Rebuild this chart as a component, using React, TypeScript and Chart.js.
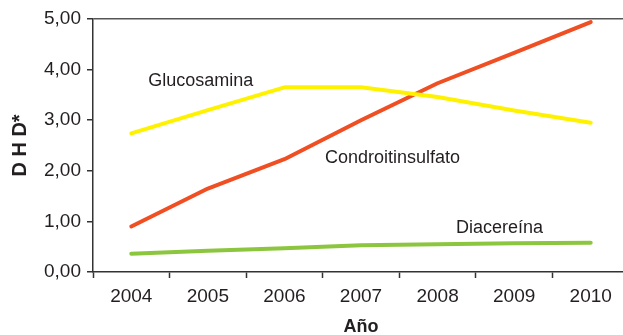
import React, { useEffect, useRef } from "react";
import { Chart, registerables } from "chart.js";

Chart.register(...registerables);

const years = ["2004", "2005", "2006", "2007", "2008", "2009", "2010"];
const glucosamina = [2.74, 3.2, 3.65, 3.65, 3.46, 3.19, 2.95];
const condroitinsulfato = [0.9, 1.65, 2.23, 3.0, 3.73, 4.33, 4.94];
const diacereina = [0.36, 0.42, 0.47, 0.53, 0.55, 0.57, 0.58];

const seriesNames = ["Glucosamina", "Condroitinsulfato", "Diacereína"];
// label anchors in data coordinates: [category index, value]
const labelAnchors: [number, number][] = [
  [0.22, 3.78],
  [2.53, 2.26],
  [4.24, 0.86],
];

const yTitle = "D H D*";
const xTitle = "Año";

const labelPlugin = {
  id: "seriesLabels",
  afterDatasetsDraw(chart: any) {
    const { ctx, scales } = chart;
    ctx.save();
    ctx.font = "18px 'Liberation Sans', Arial, sans-serif";
    ctx.fillStyle = "#231f20";
    ctx.textAlign = "left";
    ctx.textBaseline = "middle";
    seriesNames.forEach((name, i) => {
      const [xi, yv] = labelAnchors[i];
      ctx.fillText(name, scales.x.getPixelForValue(xi), scales.y.getPixelForValue(yv));
    });
    ctx.restore();
  },
};

export default function App() {
  const ref = useRef<HTMLCanvasElement>(null);
  useEffect(() => {
    if (!ref.current) return;
    const font = "'Liberation Sans', Arial, sans-serif";
    const chart = new Chart(ref.current, {
      type: "line",
      data: {
        labels: years,
        datasets: [
          { label: seriesNames[0], data: glucosamina, borderColor: "#fff200" },
          { label: seriesNames[1], data: condroitinsulfato, borderColor: "#f04e23" },
          { label: seriesNames[2], data: diacereina, borderColor: "#8cc63f" },
        ].map((d) => ({
          ...d,
          borderWidth: 4,
          tension: 0,
          pointRadius: 0,
          borderCapStyle: "round" as const,
          borderJoinStyle: "round" as const,
          fill: false,
        })),
      },
      options: {
        animation: false,
        responsive: false,
        layout: { padding: { left: 0, right: 11, top: 19, bottom: 0 } },
        plugins: { legend: { display: false }, tooltip: { enabled: false } },
        scales: {
          x: {
            offset: true,
            grid: {
              offset: true,
              drawOnChartArea: false,
              tickLength: 6,
              tickColor: "#333",
              tickWidth: 1.5,
            },
            border: { color: "#333", width: 1.5 },
            ticks: { color: "#231f20", font: { family: font, size: 19 }, padding: 7, maxRotation: 0 },
            title: {
              display: true,
              text: xTitle,
              color: "#231f20",
              font: { family: font, size: 18, weight: "bold", lineHeight: 1 },
              padding: { top: 0, bottom: -1 },
            },
            afterFit(scale: any) {
              scale.height = 63;
            },
          },
          y: {
            min: 0,
            max: 5,
            grid: {
              drawOnChartArea: true,
              color: (c: any) => (c.tick && c.tick.value === 5 ? "#555" : "transparent"),
              tickColor: "#333",
              tickLength: 6,
              lineWidth: 1.5,
              tickWidth: 1.5,
            },
            border: { color: "#333", width: 1.5 },
            ticks: {
              stepSize: 1,
              color: "#231f20",
              font: { family: font, size: 19 },
              padding: 6,
              callback: (v: any) => Number(v).toFixed(2).replace(".", ","),
            },
            title: {
              display: true,
              text: yTitle,
              color: "#231f20",
              font: { family: font, size: 20, weight: "bold" },
              padding: { top: 8, bottom: 0 },
            },
            afterFit(scale: any) {
              scale.width = 93;
            },
          },
        },
      },
      plugins: [labelPlugin],
    });
    return () => chart.destroy();
  }, []);
  return (
    <div style={{ position: "fixed", left: 0, top: 0, width: 623, height: 335, overflow: "hidden", background: "#fff" }}>
      <canvas ref={ref} width={640} height={335} style={{ display: "block" }} />
    </div>
  );
}
